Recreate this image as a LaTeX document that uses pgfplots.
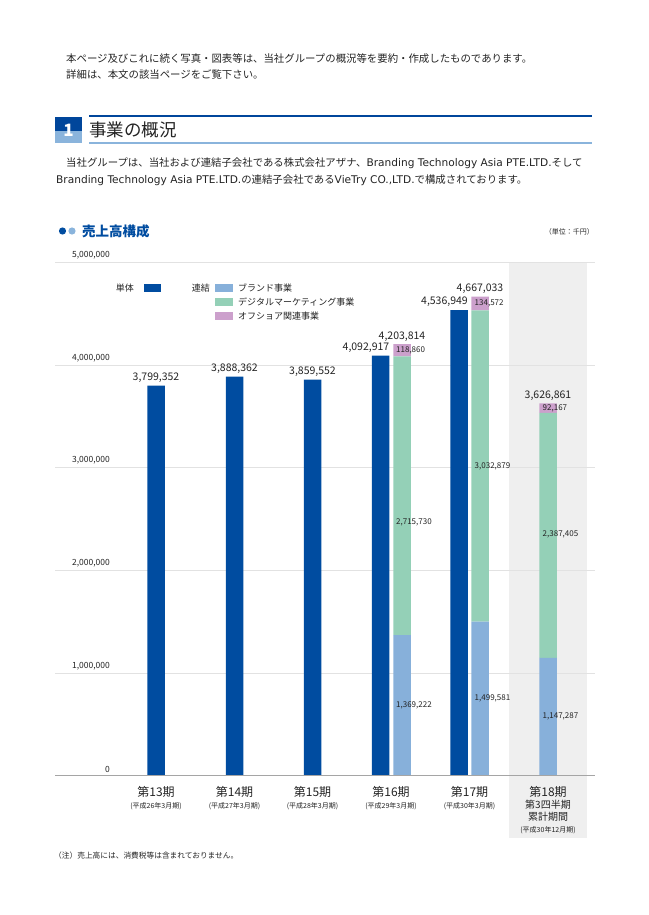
\documentclass[border=0pt]{standalone}
\usepackage{fontspec}
\setmainfont{Noto Sans CJK JP}
\newfontfamily\lat{DejaVu Sans}
\usepackage{pgfplots}
\pgfplotsset{compat=1.18}
\definecolor{tanblue}{RGB}{0,76,160}
\definecolor{brandblue}{RGB}{135,176,218}
\definecolor{digigreen}{RGB}{148,208,183}
\definecolor{offpink}{RGB}{204,160,204}
\definecolor{bggray}{RGB}{239,239,239}
\definecolor{gridgray}{RGB}{226,226,226}
\definecolor{basegray}{RGB}{165,165,165}
\definecolor{txt}{RGB}{35,35,35}
\definecolor{headblue}{RGB}{0,70,155}
\definecolor{headlight}{RGB}{138,180,220}
\newcommand{\fs}[1]{\fontsize{#1}{#1}\selectfont}
\newcommand{\la}[1]{{\lat\fontsize{10.6}{10.6}\selectfont #1}}
\tikzset{
  vlab/.style={inner sep=0pt, text=txt, font=\fontsize{10.5}{10.5}\selectfont},
  ilab/.style={inner sep=0pt, text=txt, font=\fontsize{8}{8}\selectfont, anchor=west},
}
\pgfplotsset{frame/.style={
  at={(55pt,-775.5pt)}, anchor=south west,
  scale only axis, width=540pt, height=513pt,
  xmin=55, xmax=595, ymin=0, ymax=5000000, clip=false}}
\begin{document}
\begin{tikzpicture}
\useasboundingbox (0,0) rectangle (648pt,-915pt);
\begin{scope}[x=1pt,y=-1pt, every node/.style={inner sep=0pt, text=txt}]
% top text
\node[anchor=west] at (66,59) {\fs{10.4}本ページ及びこれに続く写真・図表等は、当社グループの概況等を要約・作成したものであります。};
\node[anchor=west] at (66,75) {\fs{10.4}詳細は、本文の該当ページをご覧下さい。};
% heading
\fill[headblue] (55,117) rectangle (82,131);
\fill[headlight] (55,131) rectangle (82,143);
\node[text=white] at (68.5,130) {\fs{17}\bfseries 1};
\fill[headblue] (89,115.5) rectangle (592,117.5);
\fill[headlight] (89,142) rectangle (592,144);
\node[anchor=west] at (89,130) {\fs{17.5}事業の概況};
% body
\node[anchor=west] at (66,163) {\fs{10.4}当社グループは、当社および連結子会社である株式会社アザナ、\la{Branding Technology Asia PTE.LTD.}そして};
\node[anchor=west] at (56,180) {\fs{10.4}\la{Branding Technology Asia PTE.LTD.}の連結子会社である\la{VieTry CO.,LTD.}で構成されております。};
% section title
\fill[tanblue] (62.5,231) circle (3.6);
\fill[headlight] (72,231) circle (3.6);
\node[anchor=west, text=tanblue] at (82,231) {\fs{13.5}\bfseries 売上高構成};
\node[anchor=east] at (594,232) {\fs{7}（単位：千円）};
% gray background for 18th period
\fill[bggray] (509,263) rectangle (587,838);
% footnote
\node[anchor=west] at (54,856) {\fs{7.7}（注）売上高には、消費税等は含まれておりません。};
% legend
\node[anchor=east] at (134,288) {\fs{9}単体};
\fill[tanblue] (144,284) rectangle (161,292);
\node[anchor=east] at (210,288) {\fs{9}連結};
\fill[brandblue] (215,284) rectangle (233,292);
\fill[digigreen] (215,298) rectangle (233,306);
\fill[offpink] (215,312) rectangle (233,320);
\node[anchor=west] at (238,288) {\fs{9}ブランド事業};
\node[anchor=west] at (238,302) {\fs{9}デジタルマーケティング事業};
\node[anchor=west] at (238,316) {\fs{9}オフショア関連事業};
\end{scope}
\begin{axis}[frame,
  axis line style={draw=none},
  every tick/.style={draw=none},
  ymajorgrids, grid style={draw=gridgray, line width=0.8pt},
  ytick={0,1000000,2000000,3000000,4000000,5000000},
  scaled y ticks=false,
  yticklabel style={/pgf/number format/fixed, /pgf/number format/1000 sep={,}, /pgf/number format/assume math mode=true,
    anchor=south east, inner sep=0pt, xshift=55pt, yshift=3pt, font=\fontsize{8.5}{8.5}\selectfont, text=txt},
  xtick={156,234.5,312.5,391,469.5,548},
  xticklabels={
    {\fs{12}第13期\\\fs{7}(平成26年3月期)},
    {\fs{12}第14期\\\fs{7}(平成27年3月期)},
    {\fs{12}第15期\\\fs{7}(平成28年3月期)},
    {\fs{12}第16期\\\fs{7}(平成29年3月期)},
    {\fs{12}第17期\\\fs{7}(平成30年3月期)},
    {\fs{12}第18期\\第3四半期\\累計期間\\\fs{7}(平成30年12月期)}},
  xticklabel style={align=center, anchor=north, inner sep=0pt, yshift=-11pt, text=txt},
  ybar stacked, bar width=17.5pt,
]
\addplot[fill=tanblue, draw=none] coordinates {(156,3799352) (234.5,3888362) (312.5,3859552) (380.5,4092917) (402,0) (459,4536949) (480,0) (548,0)};
\addplot[fill=brandblue, draw=none] coordinates {(156,0) (234.5,0) (312.5,0) (380.5,0) (402,1369222) (459,0) (480,1499581) (548,1147287)};
\addplot[fill=digigreen, draw=none] coordinates {(156,0) (234.5,0) (312.5,0) (380.5,0) (402,2715730) (459,0) (480,3032879) (548,2387405)};
\addplot[fill=offpink, draw=none] coordinates {(156,0) (234.5,0) (312.5,0) (380.5,0) (402,118860) (459,0) (480,134572) (548,92167)};
\end{axis}
\begin{axis}[frame, hide axis]
\draw[basegray, line width=0.8pt] (axis cs:55,0) -- (axis cs:595,0);
% value labels
\node[vlab, anchor=south, yshift=3pt] at (axis cs:156,3799352) {3,799,352};
\node[vlab, anchor=south, yshift=3pt] at (axis cs:234.5,3888362) {3,888,362};
\node[vlab, anchor=south, yshift=3pt] at (axis cs:312.5,3859552) {3,859,552};
\node[vlab, anchor=south east, yshift=3pt] at (axis cs:389.5,4092917) {4,092,917};
\node[vlab, anchor=south east, yshift=3pt] at (axis cs:468,4536949) {4,536,949};
\node[vlab, anchor=south, yshift=3pt] at (axis cs:402,4203814) {4,203,814};
\node[vlab, anchor=south, yshift=3pt] at (axis cs:480,4667033) {4,667,033};
\node[vlab, anchor=south, yshift=3pt] at (axis cs:548,3626861) {3,626,861};
\node[ilab] at (axis cs:396,4144000) {118,860};
\node[ilab] at (axis cs:474.5,4600000) {134,572};
\node[ilab] at (axis cs:542.5,3581000) {92,167};
\node[ilab] at (axis cs:396,2471000) {2,715,730};
\node[ilab] at (axis cs:396,688000) {1,369,222};
\node[ilab] at (axis cs:474.5,3017000) {3,032,879};
\node[ilab] at (axis cs:474.5,749000) {1,499,581};
\node[ilab] at (axis cs:542.5,2347000) {2,387,405};
\node[ilab] at (axis cs:542.5,580000) {1,147,287};
\end{axis}
\end{tikzpicture}
\end{document}
